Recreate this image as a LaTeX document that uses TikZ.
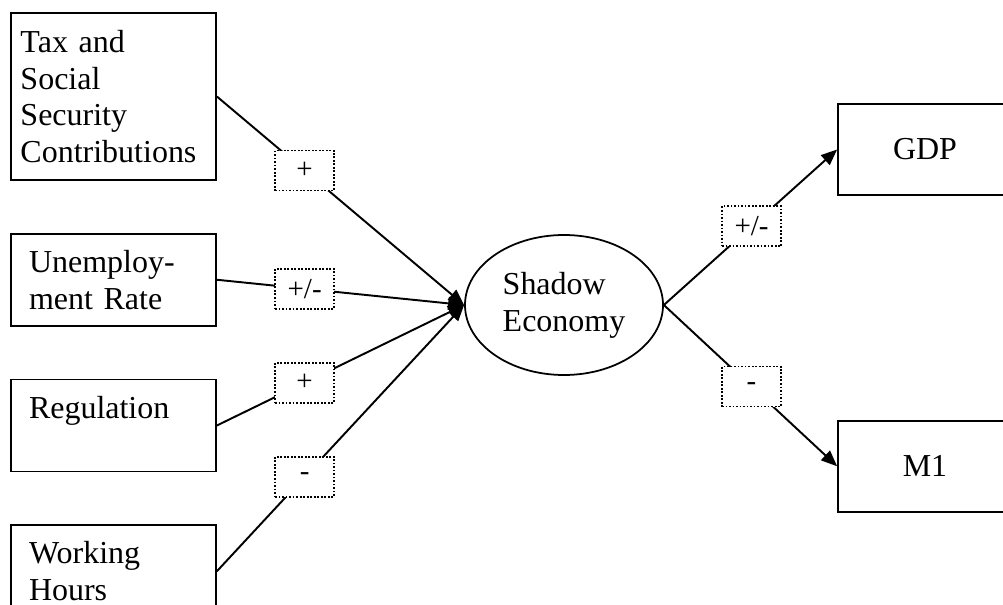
\documentclass[tikz,border=0pt]{standalone}
\usepackage{fontspec}
\setmainfont{Liberation Serif}
\usetikzlibrary{positioning, shapes.geometric, arrows.meta}

\begin{document}
\begin{tikzpicture}[
    node distance=1.04cm,
    factor/.style={draw, line width=1pt, rectangle, minimum width=4.1cm, minimum height=1.84cm, text width=3.38cm, align=left, font=\fontsize{18.2}{20.9}\selectfont},
    outcome/.style={draw, line width=1pt, rectangle, minimum width=3.48cm, minimum height=1.82cm, font=\fontsize{18.2}{20.9}\selectfont},
    latent/.style={draw, line width=1pt, ellipse, minimum width=3.96cm, minimum height=2.8cm, inner sep=2pt, align=left, font=\fontsize{18.2}{20.9}\selectfont},
    sign/.style={draw, dash pattern=on 1pt off 1pt, line width=1pt, fill=white, minimum width=1.18cm, minimum height=0.8cm, inner sep=0pt, font=\fontsize{16.5}{19}\selectfont},
    arrow/.style={-{Triangle[length=0.32cm, width=0.26cm]}, line width=1.1pt}
]
    \useasboundingbox (0,0) rectangle (20.06,-12.1);

    % Nodes
    \node[factor, minimum height=3.34cm, text width=3.72cm] (tax) at (2.27,-1.93) {Tax and\\Social\\Security\\Contributions};
    \node[factor, below=of tax] (unemp) {Unemploy-\\ment Rate};
    \node[factor, below=of unemp] (reg) {Regulation\\\mbox{}};
    \node[factor, below=of reg] (hours) {Working\\Hours};
    \node[latent] (shadow) at (11.28,-6.1) {Shadow\\Economy};
    \node[outcome] (gdp) at (18.5,-2.99) {GDP};
    \node[outcome, below=4.48cm of gdp] (m1) {M1};

    % Connections
    \draw[arrow] (tax.east) -- node[sign, pos=0.355] (taxsign) {+} (shadow.west);
    \draw[arrow] (unemp.east) -- node[sign, pos=0.355] (unempsign) {+/-} (shadow.west);
    \draw[arrow] (reg.east) -- node[sign, pos=0.355] (regsign) {+} (shadow.west);
    \draw[arrow] (hours.east) -- node[sign, pos=0.355] (hourssign) {-} (shadow.west);
    \draw[arrow] (shadow.east) -- node[sign, pos=0.506] (gdpsign) {+/-} (gdp.west);
    \draw[arrow] (shadow.east) -- node[sign, pos=0.506] (m1sign) {-} (m1.west);
\end{tikzpicture}
\end{document}
